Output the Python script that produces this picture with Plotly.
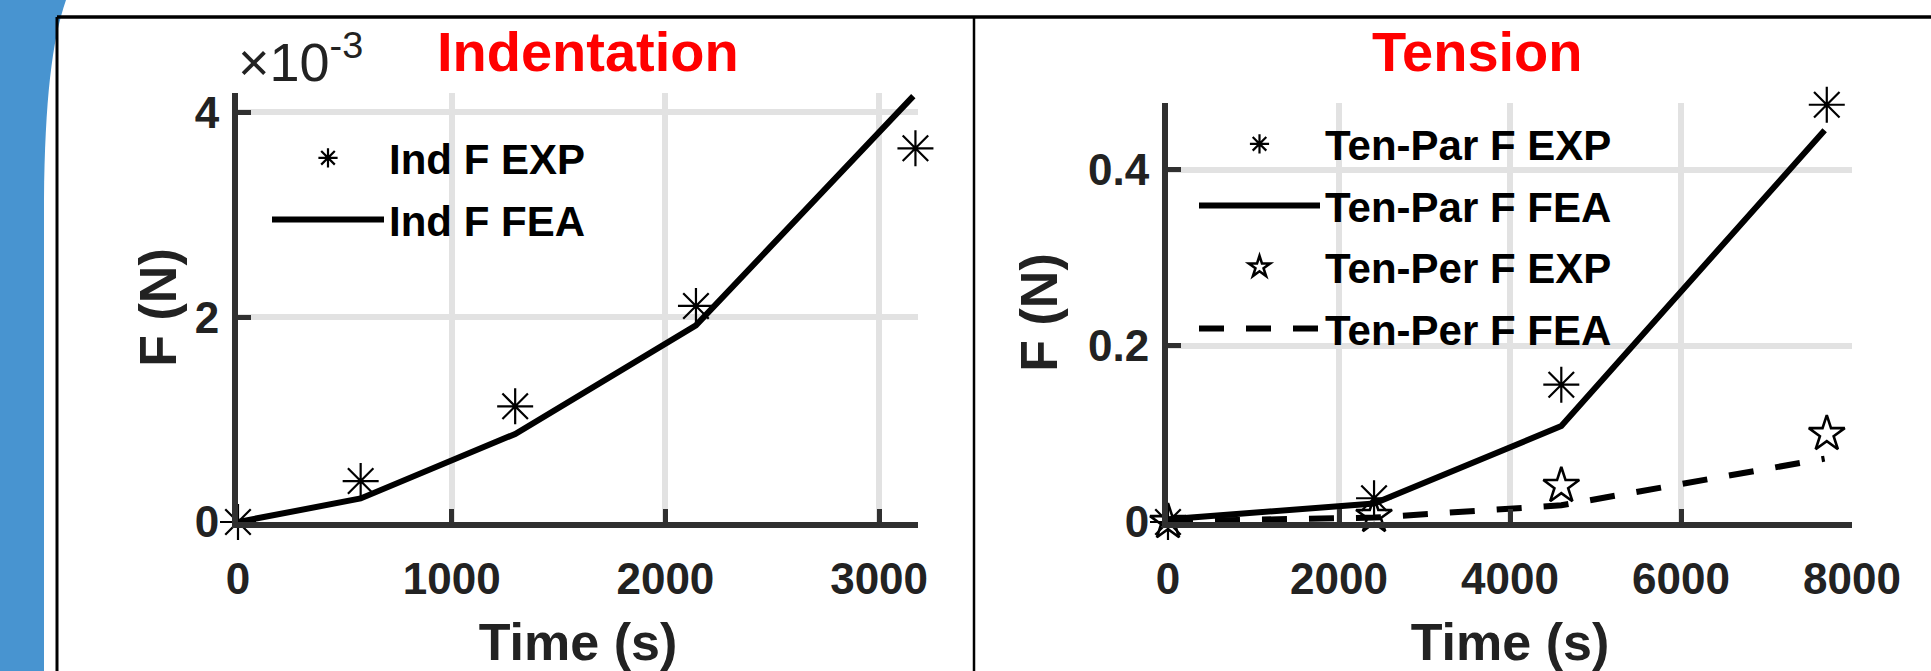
import plotly.graph_objects as go

W, H = 1931, 671

# ---------------- data ----------------
ind_time_exp = [0, 574, 1297, 2143, 3170]
ind_f_exp = [0.0, 0.40, 1.13, 2.11, 3.65]          # x10^-3 N
ind_time_fea = [0, 574, 1297, 2143, 3160]
ind_f_fea = [0.0, 0.23, 0.86, 1.92, 4.16]          # x10^-3 N

ten_time_exp = [0, 2410, 4600, 7705]
ten_par_exp = [0.0, 0.027, 0.156, 0.474]
ten_per_exp = [0.0, 0.007, 0.041, 0.100]
ten_time_fea = [0, 2410, 4600, 7680]
ten_par_fea = [0.003, 0.021, 0.109, 0.445]
ten_per_fea = [0.001, 0.005, 0.019, 0.072]

ind_xticks = [0, 1000, 2000, 3000]
ind_yticks = [0, 2, 4]
ten_xticks = [0, 2000, 4000, 6000, 8000]
ten_yticks = [0, 0.2, 0.4]
ten_yticktext = ["0", "0.2", "0.4"]

# ---------------- helpers ----------------
def px(x):
    return x / W

def py(y):
    return 1 - y / H

AX = "#303030"
GRID = "#e2e2e2"
BOLD = "Liberation Sans, Arial, sans-serif"

fig = go.Figure()

star_marker = dict(symbol="asterisk-open", size=30, color="black",
                   line=dict(color="black", width=2.2))
pent_marker = dict(symbol="star-open", size=27, color="black",
                   line=dict(color="black", width=2.6))

fig.add_trace(go.Scatter(x=ind_time_exp, y=ind_f_exp, mode="markers", name="Ind F EXP",
                         marker=star_marker, xaxis="x", yaxis="y", cliponaxis=False,
                         legend="legend", legendgroup="a"))
fig.add_trace(go.Scatter(x=ind_time_fea, y=ind_f_fea, mode="lines", name="Ind F FEA",
                         line=dict(color="black", width=6), xaxis="x", yaxis="y",
                         cliponaxis=False, legend="legend", legendgroup="b"))

fig.add_trace(go.Scatter(x=ten_time_exp, y=ten_par_exp, mode="markers", name="Ten-Par F EXP",
                         marker=star_marker, xaxis="x2", yaxis="y2", cliponaxis=False,
                         legend="legend2", legendgroup="c"))
fig.add_trace(go.Scatter(x=ten_time_fea, y=ten_par_fea, mode="lines", name="Ten-Par F FEA",
                         line=dict(color="black", width=6), xaxis="x2", yaxis="y2",
                         cliponaxis=False, legend="legend2", legendgroup="d"))
fig.add_trace(go.Scatter(x=ten_time_exp, y=ten_per_exp, mode="markers", name="Ten-Per F EXP",
                         marker=pent_marker, xaxis="x2", yaxis="y2", cliponaxis=False,
                         legend="legend2", legendgroup="e"))
fig.add_trace(go.Scatter(x=ten_time_fea, y=ten_per_fea, mode="lines", name="Ten-Per F FEA",
                         line=dict(color="black", width=6, dash="25px,22px"),
                         xaxis="x2", yaxis="y2", cliponaxis=False,
                         legend="legend2", legendgroup="f"))

tickfont = dict(family=BOLD, size=44, color="#222222", weight="bold")
xtitlefont = dict(family=BOLD, size=52, color="#222222", weight="bold")
ytitlefont = dict(family=BOLD, size=52, color="#222222", weight="bold")

common_axis = dict(showline=True, linecolor=AX, linewidth=6, ticks="inside", ticklen=13,
                   tickwidth=5, tickcolor=AX, showgrid=True, gridcolor=GRID, gridwidth=6,
                   zeroline=False, tickfont=tickfont, fixedrange=True, automargin=False)

fig.update_layout(
    width=W, height=H,
    margin=dict(l=0, r=0, t=0, b=0),
    paper_bgcolor="white", plot_bgcolor="white",
    xaxis=dict(domain=[px(238), px(918)], range=[0, 3182], tickvals=ind_xticks,
               anchor="y", ticklabelstandoff=13,
               title=dict(text="Time (s)", font=xtitlefont, standoff=57), **common_axis),
    yaxis=dict(domain=[py(522), py(93)], range=[0, 4.19], tickvals=ind_yticks,
               anchor="x", ticklabelstandoff=4,
               title=dict(text="F (N)", font=ytitlefont, standoff=4), **common_axis),
    xaxis2=dict(domain=[px(1168), px(1852)], range=[0, 8000], tickvals=ten_xticks,
                anchor="y2", ticklabelstandoff=13,
                title=dict(text="Time (s)", font=xtitlefont, standoff=57), **common_axis),
    yaxis2=dict(domain=[py(522), py(103)], range=[0, 0.476], tickvals=ten_yticks,
                ticktext=ten_yticktext, anchor="x2", ticklabelstandoff=4,
                title=dict(text="F (N)", font=ytitlefont, standoff=16), **common_axis),
    legend=dict(x=px(267), y=py(124), xanchor="left", yanchor="top",
                bgcolor="rgba(0,0,0,0)", borderwidth=0, itemwidth=112,
                traceorder="grouped", tracegroupgap=4,
                font=dict(family=BOLD, size=42, color="black", weight="bold")),
    legend2=dict(x=px(1194), y=py(110), xanchor="left", yanchor="top",
                 bgcolor="rgba(0,0,0,0)", borderwidth=0, itemwidth=121,
                 traceorder="grouped", tracegroupgap=4,
                 font=dict(family=BOLD, size=42, color="black", weight="bold")),
    showlegend=True,
)

# background decoration: blue side bar and frame
blue_path = (f"M 0 {py(0)} L {px(66)} {py(0)} "
             f"C {px(52)} {py(40)} {px(45)} {py(100)} {px(44)} {py(200)} "
             f"L {px(44)} {py(671)} L 0 {py(671)} Z")
fig.add_shape(type="path", path=blue_path, xref="paper", yref="paper",
              fillcolor="#4894d0", line=dict(width=0), layer="below")
fig.add_shape(type="line", xref="paper", yref="paper", x0=px(57), x1=px(1931),
              y0=py(17), y1=py(17), line=dict(color="black", width=3.5), layer="below")
fig.add_shape(type="line", xref="paper", yref="paper", x0=px(57), x1=px(57),
              y0=py(17), y1=py(671), line=dict(color="black", width=3), layer="below")
fig.add_shape(type="line", xref="paper", yref="paper", x0=px(974), x1=px(974),
              y0=py(17), y1=py(671), line=dict(color="black", width=2.5), layer="below")

# titles
title_font = dict(family=BOLD, size=56, color="#ff0000", weight="bold")
fig.add_annotation(text="Indentation", x=px(588), y=py(52), xref="paper", yref="paper",
                   xanchor="center", yanchor="middle", showarrow=False, font=title_font)
fig.add_annotation(text="Tension", x=px(1477), y=py(52), xref="paper", yref="paper",
                   xanchor="center", yanchor="middle", showarrow=False, font=title_font)
# exponent label
fig.add_annotation(text="×10<sup>-3</sup>", x=px(236), y=py(94), xref="paper", yref="paper",
                   xanchor="left", yanchor="bottom", showarrow=False,
                   font=dict(family=BOLD, size=54, color="#222222"))

fig.write_html("out.html")
